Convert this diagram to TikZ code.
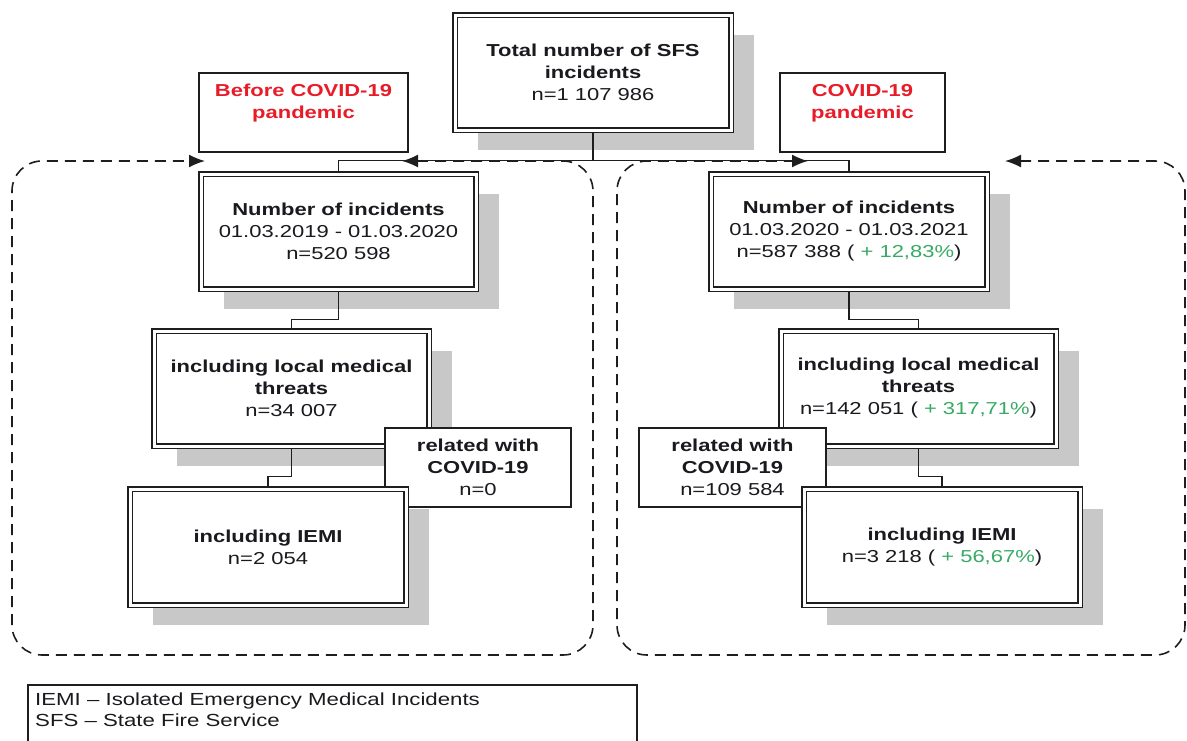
\documentclass[tikz,border=0pt]{standalone}
\usepackage{fontspec}
\setmainfont{Liberation Sans}[FakeStretch=1.27]
\usetikzlibrary{arrows.meta,shadows,calc}
\definecolor{boxline}{RGB}{30,30,30}
\definecolor{shadowgray}{RGB}{200,200,200}
\definecolor{redtxt}{RGB}{232,28,40}
\definecolor{greentxt}{RGB}{55,170,100}
\definecolor{txt}{RGB}{25,25,30}
\newcommand{\gr}[1]{{\color{greentxt}#1}}
\begin{document}
\begin{tikzpicture}[x=1pt,y=-1pt,
  every node/.style={font=\fontsize{17.3}{22}\selectfont, align=center, text=txt, inner sep=0pt},
  shad/.style={drop shadow={shadow xshift=23pt, shadow yshift=-20pt, fill=shadowgray, opacity=1}},
  dbox/.style 2 args={draw=boxline, double=white, double distance=3pt, line width=1.3pt,
    fill=white, minimum width=#1-4pt, minimum height=#2-4pt, shad},
  sbox/.style 2 args={draw=boxline, line width=1.5pt, fill=white,
    minimum width=#1, minimum height=#2},
  conn/.style={draw=boxline, line width=1.3pt, shorten <=2pt, shorten >=2pt},
  dashpath/.style={draw=boxline, line width=1.6pt, dash pattern=on 11pt off 7pt,
    rounded corners=30pt, {Latex[length=16pt,width=13pt]}-{Latex[length=16pt,width=13pt]}}
]
\useasboundingbox (0,0) rectangle (1187,740);
\clip (0,0) rectangle (1187,740);

% labels
\node[sbox={209pt}{79pt}] (before) at (303.5,112.5)
  {\color{redtxt}\bfseries Before COVID-19\\\color{redtxt}\bfseries pandemic\\\mbox{}};
\node[sbox={165pt}{79pt}] (covid) at (862.5,112.5)
  {\color{redtxt}\bfseries COVID-19\\\color{redtxt}\bfseries pandemic\\\mbox{}};

% total
\node[dbox={280pt}{119pt}] (tot) at (593,72.5)
  {\textbf{Total number of SFS}\\\textbf{incidents}\\n=1 107 986};

% left column
\node[dbox={279pt}{119pt}] (lnum) at (338.5,231.5)
  {\textbf{Number of incidents}\\01.03.2019 - 01.03.2020\\n=520 598};
\node[dbox={279pt}{119pt}] (lmed) at (291.5,388.5)
  {\textbf{including local medical}\\\textbf{threats}\\n=34 007};
\node[sbox={186pt}{79pt}] (lrel) at (478,467.5)
  {\textbf{related with}\\\textbf{COVID-19}\\n=0};
\node[dbox={280pt}{120pt}] (liemi) at (268,547)
  {\textbf{including IEMI}\\n=2 054};

% right column
\node[dbox={280pt}{119pt}] (rnum) at (849,231.5)
  {\textbf{Number of incidents}\\01.03.2020 - 01.03.2021\\n=587 388 ( \gr{+ 12,83\%})};
\node[dbox={279pt}{119pt}] (rmed) at (918.5,388.5)
  {\textbf{including local medical}\\\textbf{threats}\\n=142 051 ( \gr{+ 317,71\%})};
\node[sbox={187pt}{79pt}] (rrel) at (732.5,467.5)
  {\textbf{related with}\\\textbf{COVID-19}\\n=109 584};
\node[dbox={280pt}{120pt}] (riemi) at (942,547)
  {\textbf{including IEMI}\\n=3 218 ( \gr{+ 56,67\%})};

% connectors
\draw[conn] (tot.south) |- ([yshift=13pt]lnum.north) -| (lnum.north);
\draw[conn] (tot.south) |- ([yshift=13pt]rnum.north) -| (rnum.north);
\draw[conn] (lnum.south) |- ([yshift=11pt]lmed.north) -| (lmed.north);
\draw[conn] (lmed.south) |- ([yshift=12pt]liemi.north) -| (liemi.north);
\draw[conn] (rnum.south) |- ([yshift=11pt]rmed.north) -| (rmed.north);
\draw[conn] (rmed.south) |- ([yshift=12pt]riemi.north) -| (riemi.north);

% dashed period frames
\coordinate (lA) at (402,161);
\coordinate (lB) at (205,161);
\coordinate (rA) at (1005,161);
\coordinate (rB) at (808,161);
\draw[dashpath] (lA) -- (593,161) -- (593,655) -- (12,655) -- (12,161) -- (lB);
\draw[dashpath] (rA) -- (1185,161) -- (1185,655) -- (617,655) -- (617,161) -- (rB);

% legend
\node[anchor=north west, align=left, font=\fontsize{17.5}{21}\selectfont] (leg) at (35,693)
  {IEMI – Isolated Emergency Medical Incidents\\SFS – State Fire Service};
\draw[boxline, line width=1.2pt] (28,685) rectangle (637,770);
\end{tikzpicture}
\end{document}
